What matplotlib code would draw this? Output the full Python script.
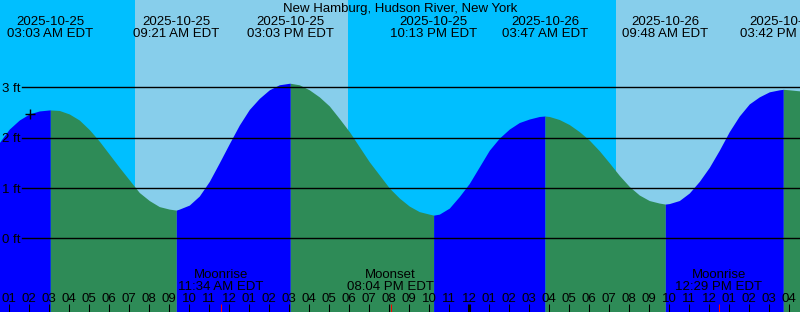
import numpy as np
import matplotlib.pyplot as plt

plt.rcParams['font.family'] = ['Liberation Sans', 'DejaVu Sans']

# Tide station
title = "New Hamburg, Hudson River, New York"

# Extremes (hours since 2025-10-25 00:00 EDT), heights in ft
ext_hours = [3.05, 9.35, 15.05, 22.217, 27.783, 33.8, 39.7]
ext_ft = [2.55, 0.56, 3.08, 0.46, 2.43, 0.68, 2.96]
ext_dates = ["2025-10-25", "2025-10-25", "2025-10-25", "2025-10-25",
             "2025-10-26", "2025-10-26", "2025-10-26"]
ext_times = ["03:03 AM EDT", "09:21 AM EDT", "03:03 PM EDT", "10:13 PM EDT",
             "03:47 AM EDT", "09:48 AM EDT", "03:42 PM EDT"]

# water level every half hour, 00:30 .. 41:00
level_hours = np.arange(0.5, 41.01, 0.5)
level_ft = [1.90, 2.17, 2.35, 2.47, 2.53, 2.55, 2.54, 2.47, 2.35, 2.16,
            1.93, 1.67, 1.41, 1.16, 0.91, 0.75, 0.63, 0.58, 0.58, 0.66,
            0.84, 1.13, 1.50, 1.88, 2.25, 2.56, 2.78, 2.95, 3.05, 3.08,
            3.05, 2.95, 2.81, 2.63, 2.38, 2.12, 1.82, 1.52, 1.26, 1.00,
            0.80, 0.64, 0.53, 0.48, 0.48, 0.60, 0.83, 1.09, 1.42, 1.75,
            1.99, 2.17, 2.30, 2.37, 2.42, 2.42, 2.36, 2.26, 2.12, 1.95,
            1.74, 1.50, 1.25, 1.03, 0.86, 0.75, 0.70, 0.69, 0.75, 0.90,
            1.13, 1.41, 1.75, 2.12, 2.43, 2.67, 2.81, 2.91, 2.95, 2.95,
            2.93, 2.90]

# Sunrise / sunset
sun_hours = [7.285, 17.935, 31.335]   # rise, set, rise

# Moon events
moon_hours = [11.567, 20.067, 36.483]
moon_names = ["Moonrise", "Moonset", "Moonrise"]
moon_times = ["11:34 AM EDT", "08:04 PM EDT", "12:29 PM EDT"]

# current time marker
now_hour = 2.035
now_ft = 2.46

level_lines = [0, 1, 2, 3]

W, H = 800, 312
t0 = 0.535
t1 = t0 + 40
px_ft = 50.33
zero_px = 238.3
ybot = (zero_px - H) / px_ft
ytop = zero_px / px_ft
fs = 9.5

night = '#00BFFF'
day = '#87CEEB'
flood = '#0000FF'
ebb = '#2E8B57'

fig = plt.figure(figsize=(W / 100, H / 100), dpi=100)
ax = fig.add_axes([0, 0, 1, 1])
ax.set_xlim(t0, t1)
ax.set_ylim(ybot, ytop)
ax.axis('off')

# sky
edges = [t0 - 1] + sun_hours + [t1 + 1]
for i in range(len(edges) - 1):
    ax.axvspan(edges[i], edges[i + 1], color=night if i % 2 == 0 else day,
               lw=0, zorder=0)

# water curve
t = np.concatenate([level_hours, ext_hours])
h = np.concatenate([level_ft, ext_ft])
order = np.argsort(t)
t, h = t[order], h[order]

seg = [t[0]] + ext_hours + [t[-1]]
for i in range(len(seg) - 1):
    m = (t >= seg[i]) & (t <= seg[i + 1])
    rising = np.interp(seg[i + 1], t, h) > np.interp(seg[i], t, h)
    ax.fill_between(t[m], h[m], ybot - 1, color=flood if rising else ebb,
                    lw=0, zorder=1)

# level lines + labels
for lv in level_lines:
    ax.axhline(lv, xmin=21.7 / W, xmax=1, color='black', lw=1.0, zorder=2)
    ax.annotate(f"{lv} ft", xy=(0, lv), xycoords=('axes fraction', 'data'),
                xytext=(2, -4.6), textcoords='offset pixels',
                fontsize=fs, va='baseline', ha='left', zorder=3)

ax.plot([now_hour], [now_ft], marker='+', color='black', ms=7, mew=1.0,
        zorder=4)


def ypix(p):
    return 1 - p / H


tx = ax.get_xaxis_transform()

# title and extreme labels
ax.text(0.5, ypix(12), title, transform=ax.transAxes, ha='center',
        va='baseline', fontsize=fs)
for th, d, s in zip(ext_hours, ext_dates, ext_times):
    ax.text(th, ypix(25), d, transform=tx, ha='center', va='baseline', fontsize=fs)
    ax.text(th, ypix(36.7), s, transform=tx, ha='center', va='baseline', fontsize=fs)

# hour ticks and labels
hours = np.arange(1, 41)
for hr in hours:
    lab = f"{(hr - 1) % 12 + 1:02d}"
    ax.text(hr, ypix(301.7), lab, transform=tx, ha='center', va='baseline',
            fontsize=fs, zorder=3)
    ax.plot([hr, hr], [0, 8 / H], transform=tx, color='black',
            lw=2.2 if hr % 24 == 0 else 0.75, zorder=3, solid_capstyle='butt')

# moon events
for mh, n, s in zip(moon_hours, moon_names, moon_times):
    ax.text(mh, ypix(278.3), n, transform=tx, ha='center', va='baseline', fontsize=fs)
    ax.text(mh, ypix(290), s, transform=tx, ha='center', va='baseline', fontsize=fs)
    ax.plot([mh, mh], [0, 8 / H], transform=tx, color='red', lw=0.75,
            zorder=3, solid_capstyle='butt')

fig.savefig('out.png', dpi=100)
